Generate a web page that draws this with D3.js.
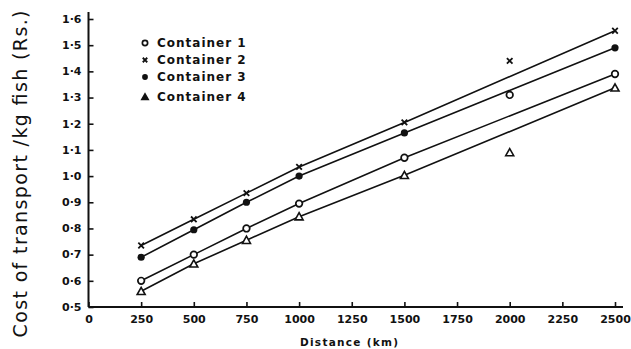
<!DOCTYPE html>
<html>
<head>
<meta charset="utf-8">
<script src="https://cdn.jsdelivr.net/npm/d3@7"></script>
<style>
  html, body { margin: 0; padding: 0; background: #fff; }
  svg { display: block; }
  text { fill: #111; }
</style>
</head>
<body>
<svg id="chart" width="631" height="349"></svg>
<script>
// Transport cost per kg of fish against distance, four container types
const distances = [250, 500, 750, 1000, 1500, 2000, 2500];
// distances used for the fitted straight lines (2000 km points lie off the lines)
const lineDistances = [250, 500, 750, 1000, 1500, 2500];
const container1 = [0.60, 0.70, 0.80, 0.895, 1.07, 1.31, 1.39];
const container2 = [0.735, 0.835, 0.935, 1.035, 1.205, 1.44, 1.555];
const container3 = [0.69, 0.795, 0.90, 1.00, 1.165, null, 1.49];
const container4 = [0.56, 0.665, 0.755, 0.845, 1.003, 1.09, 1.337];
const seriesNames = ["Container 1", "Container 2", "Container 3", "Container 4"];
const seriesSymbols = ["openCircle", "cross", "filledCircle", "openTriangle"];
const legendSymbols = ["openCircle", "cross", "filledCircle", "filledTriangle"];
const xTicks = [0, 250, 500, 750, 1000, 1250, 1500, 1750, 2000, 2250, 2500];
const yTicks = [0.5, 0.6, 0.7, 0.8, 0.9, 1.0, 1.1, 1.2, 1.3, 1.4, 1.5, 1.6];

const allSeries = [container1, container2, container3, container4];

const svg = d3.select("#chart");
const x = d3.scaleLinear().domain([0, 2500]).range([88.5, 615]);
const y = d3.scaleLinear().domain([0.5, 1.6]).range([307, 19]);

const ink = "#111";
const tickFont = "'DejaVu Sans', sans-serif";

// y axis
const yAxis = d3.axisLeft(y)
  .tickValues(yTicks)
  .tickSizeInner(-5)
  .tickSizeOuter(0)
  .tickPadding(7)
  .tickFormat(d => d.toFixed(1).replace(".", "\u00B7"));
const gy = svg.append("g").attr("transform", `translate(${x(0)},0)`).call(yAxis);
gy.select(".domain").attr("stroke", ink).attr("stroke-width", 2)
  .attr("d", `M0,${y(0.5)}V${y(1.6) - 7}`);
gy.selectAll(".tick line").attr("stroke", ink).attr("stroke-width", 1.6);
gy.selectAll(".tick text")
  .attr("font-family", tickFont).attr("font-weight", "bold").attr("font-size", 11)
  .attr("dy", "0.3em").style("fill", ink);

// x axis
const xAxis = d3.axisBottom(x)
  .tickValues(xTicks)
  .tickSizeInner(-5)
  .tickSizeOuter(0)
  .tickPadding(8)
  .tickFormat(d => String(d));
const gx = svg.append("g").attr("transform", `translate(0,${y(0.5)})`).call(xAxis);
gx.select(".domain").attr("stroke", ink).attr("stroke-width", 2)
  .attr("d", `M${x(0)},0H${x(2500) + 8}`);
gx.selectAll(".tick line").attr("stroke", ink).attr("stroke-width", 1.6);
gx.selectAll(".tick text")
  .attr("font-family", tickFont).attr("font-weight", "bold").attr("font-size", 11)
  .style("fill", ink);

// fitted lines
const line = d3.line().x(d => x(d[0])).y(d => y(d[1]));
allSeries.forEach(vals => {
  const pts = lineDistances.map(dist => [dist, vals[distances.indexOf(dist)]]);
  svg.append("path").attr("d", line(pts))
    .attr("fill", "none").attr("stroke", ink).attr("stroke-width", 1.6);
});

// markers
function drawSymbol(g, kind, cx, cy, k = 1) {
  if (kind === "openCircle") {
    g.append("circle").attr("cx", cx).attr("cy", cy).attr("r", 3.3 * k)
      .attr("fill", "#fff").attr("stroke", ink).attr("stroke-width", 1.7);
  } else if (kind === "filledCircle") {
    g.append("circle").attr("cx", cx).attr("cy", cy).attr("r", 3.6 * k).attr("fill", ink);
  } else if (kind === "cross") {
    const s = 2.8 * k;
    g.append("path").attr("d", `M${cx - s},${cy - s}L${cx + s},${cy + s}M${cx - s},${cy + s}L${cx + s},${cy - s}`)
      .attr("stroke", ink).attr("stroke-width", 1.8);
  } else if (kind === "openTriangle" || kind === "filledTriangle") {
    const s = 4 * k;
    g.append("path").attr("d", `M${cx},${cy - s}L${cx + s},${cy + s * 0.8}L${cx - s},${cy + s * 0.8}Z`)
      .attr("fill", kind === "filledTriangle" ? ink : "#fff")
      .attr("stroke", ink).attr("stroke-width", 1.6);
  }
}
const gm = svg.append("g");
allSeries.forEach((vals, i) => {
  vals.forEach((v, j) => {
    if (v == null) return;
    drawSymbol(gm, seriesSymbols[i], x(distances[j]), y(v));
  });
});

// legend
const legendRows = [43, 60, 77, 97];
const gl = svg.append("g");
seriesNames.forEach((name, i) => {
  const ly = legendRows[i];
  drawSymbol(gl, legendSymbols[i], 145, ly, 0.8);
  gl.append("text").attr("x", 157).attr("y", ly).attr("dy", "0.36em")
    .attr("font-family", tickFont).attr("font-weight", "bold").attr("font-size", 12)
    .attr("letter-spacing", 1).text(name);
});

// axis titles
svg.append("text")
  .attr("transform", `translate(27,174) rotate(-90)`)
  .attr("text-anchor", "middle")
  .attr("font-family", tickFont).attr("font-size", 19)
  .attr("textLength", 327).attr("lengthAdjust", "spacing")
  .text("Cost of transport /kg fish (Rs.)");

svg.append("text")
  .attr("x", 349).attr("y", 346)
  .attr("text-anchor", "middle")
  .attr("font-family", tickFont).attr("font-weight", "bold").attr("font-size", 10.5)
  .attr("textLength", 98).attr("lengthAdjust", "spacing")
  .text("Distance (km)");
</script>
</body>
</html>
